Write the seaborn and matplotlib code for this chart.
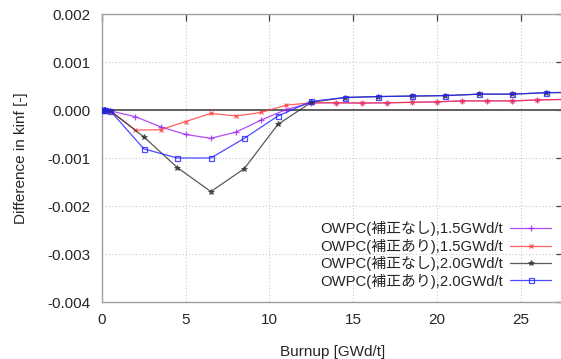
"""
plot.py
-------
Burnup vs. kinf difference for OWPC with / without correction (1.5 and 2.0 GWd/t steps).
"""

import numpy as np
import pandas as pd
import matplotlib
matplotlib.use("Agg")
import matplotlib.pyplot as plt
import seaborn as sns

# ---------------------------------------------------------------------------
# Data
# ---------------------------------------------------------------------------

# 1.5 GWd/t step burnup points
BURNUP_15 = [0.0, 0.1, 0.2, 0.5, 2.0, 3.5, 5.0, 6.5, 8.0, 9.5, 11.0, 12.5,
             14.0, 15.5, 17.0, 18.5, 20.0, 21.5, 23.0, 24.5, 26.0, 27.5]
# OWPC without correction, 1.5 GWd/t
DIFF_NOCORR_15 = [0.0, -0.00001, -0.00001, -0.00002, -0.00014, -0.00035, -0.00051,
                  -0.00059, -0.00046, -0.00021, 0.00001, 0.00015,
                  0.00015, 0.000145, 0.00015, 0.00016, 0.00017, 0.00019,
                  0.00019, 0.00019, 0.00021, 0.00022]
# OWPC with correction, 1.5 GWd/t
DIFF_CORR_15 = [0.0, -0.00001, -0.00001, -0.00002, -0.00042, -0.00041, -0.00024,
                -0.00007, -0.000125, -0.00005, 0.0001, 0.00015,
                0.00015, 0.000145, 0.00015, 0.00016, 0.00017, 0.00019,
                0.00019, 0.00019, 0.00021, 0.00022]

# 2.0 GWd/t step burnup points
BURNUP_20 = [0.0, 0.1, 0.2, 0.5, 2.5, 4.5, 6.5, 8.5, 10.5, 12.5,
             14.5, 16.5, 18.5, 20.5, 22.5, 24.5, 26.5, 28.5]
# OWPC without correction, 2.0 GWd/t
DIFF_NOCORR_20 = [0.0, -0.00001, -0.00001, -0.00002, -0.00056, -0.0012, -0.0017,
                  -0.00122, -0.0003, 0.00016,
                  0.00026, 0.00028, 0.00029, 0.0003, 0.00033, 0.00033, 0.00036, 0.00037]
# OWPC with correction, 2.0 GWd/t
DIFF_CORR_20 = [0.0, -0.00001, -0.00001, -0.00002, -0.00081, -0.001, -0.001,
                -0.00059, -0.000125, 0.00018,
                0.00026, 0.00028, 0.00029, 0.0003, 0.00033, 0.00033, 0.00036, 0.00037]

LABELS = [
    "OWPC(補正なし),1.5GWd/t",
    "OWPC(補正あり),1.5GWd/t",
    "OWPC(補正なし),2.0GWd/t",
    "OWPC(補正あり),2.0GWd/t",
]

X_TICKS = [0, 5, 10, 15, 20, 25]
Y_TICKS = [-0.004, -0.003, -0.002, -0.001, 0.0, 0.001, 0.002]

# ---------------------------------------------------------------------------
# Styling
# ---------------------------------------------------------------------------

sns.set_theme(style="white")
plt.rcParams["font.family"] = ["Liberation Sans", "Noto Sans CJK JP", "DejaVu Sans"]
plt.rcParams["font.size"] = 11

COLORS = ["#a020f0", "#ff3838", "#303030", "#2020ff"]
STYLES = [
    dict(marker="+", markersize=4.5, mew=0.9),
    dict(marker="x", markersize=3.5, mew=0.9),
    dict(marker="*", markersize=4, mew=0.6),
    dict(marker="s", markersize=3.6, mew=0.9, mfc="none"),
]

series = [
    (BURNUP_15, DIFF_NOCORR_15),
    (BURNUP_15, DIFF_CORR_15),
    (BURNUP_20, DIFF_NOCORR_20),
    (BURNUP_20, DIFF_CORR_20),
]

# ---------------------------------------------------------------------------
# Plot
# ---------------------------------------------------------------------------

fig = plt.figure(figsize=(5.61, 3.59), dpi=100)
ax = fig.add_axes([102 / 561, 1 - 302 / 359, (562.6 - 102) / 561, 288 / 359])

ax.axhline(0, color="#606060", lw=1.4, zorder=1)

for (x, y), label, color, style in zip(series, LABELS, COLORS, STYLES):
    df = pd.DataFrame({"burnup": x, "diff": y})
    sns.lineplot(data=df, x="burnup", y="diff", ax=ax, label=label,
                 color=color, mec=color, lw=0.9, alpha=0.8, zorder=3, **style)

ax.set_xlim(0, 27.5)
ax.set_ylim(-0.004, 0.002)
ax.set_xticks(X_TICKS)
ax.set_yticks(Y_TICKS)
ax.set_yticklabels([f"{v:.3f}" for v in Y_TICKS])

ax.grid(True, color="#c8c8c8", linestyle=(0, (1, 2)), lw=0.8)
ax.tick_params(direction="in", length=5, width=0.9, color="#404040",
               top=True, right=True, labelsize=11, pad=8, labelcolor="#262626")
for side in ("left", "bottom", "top"):
    ax.spines[side].set_color("#a0a0a0")
    ax.spines[side].set_linewidth(1.0)
ax.spines["right"].set_visible(False)

ax.set_xlabel("Burnup [GWd/t]", fontsize=11, labelpad=13, color="#262626")
ax.set_ylabel("Difference in kinf [-]", fontsize=11, labelpad=14, color="#262626")

leg = ax.legend(loc="lower right", bbox_to_anchor=(558 / 561, 1 - 296 / 359),
                bbox_transform=fig.transFigure, frameon=False, markerfirst=False,
                fontsize=10.7, handlelength=2.7, handletextpad=0.5,
                labelspacing=0.16, borderpad=0.0)
for text in leg.get_texts():
    text.set_color("#262626")

fig.savefig("out.png", dpi=100)
